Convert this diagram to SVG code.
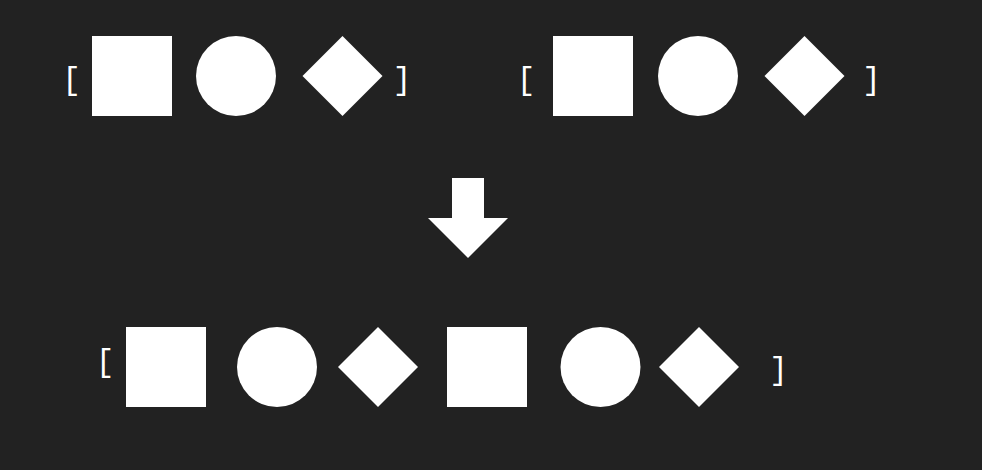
<svg xmlns="http://www.w3.org/2000/svg" width="982" height="470" viewBox="0 0 982 470">
<style>
.bg{fill:#222222}
.s{fill:#ffffff}
.br{fill:#ffffff;font-family:"Liberation Mono","DejaVu Sans Mono",monospace;font-size:31px;text-anchor:middle}
</style>
<rect class="bg" x="0" y="0" width="982" height="470"/>
<g id="list-a">
  <text class="br" x="71.5" y="89">[</text>
  <g id="a-square"><rect class="s" x="92" y="36" width="80" height="80"/></g>
  <g id="a-circle"><circle class="s" cx="236" cy="76" r="40"/></g>
  <g id="a-diamond"><polygon class="s" points="342.5,36 382.5,76 342.5,116 302.5,76"/></g>
  <text class="br" x="402" y="89">]</text>
</g>
<g id="list-b">
  <text class="br" x="526" y="89">[</text>
  <g id="b-square"><rect class="s" x="553" y="36" width="80" height="80"/></g>
  <g id="b-circle"><circle class="s" cx="698" cy="76" r="40"/></g>
  <g id="b-diamond"><polygon class="s" points="804.5,36 844.5,76 804.5,116 764.5,76"/></g>
  <text class="br" x="871.5" y="89">]</text>
</g>
<g id="connectors">
  <polygon class="s" points="452,178 484,178 484,218 508,218 468,258 428,218 452,218"/>
</g>
<g id="list-c">
  <text class="br" x="105" y="371">[</text>
  <g id="c-square1"><rect class="s" x="126" y="327" width="80" height="80"/></g>
  <g id="c-circle1"><circle class="s" cx="277" cy="367" r="40"/></g>
  <g id="c-diamond1"><polygon class="s" points="378,327 418,367 378,407 338,367"/></g>
  <g id="c-square2"><rect class="s" x="447" y="327" width="80" height="80"/></g>
  <g id="c-circle2"><circle class="s" cx="600.5" cy="367" r="40"/></g>
  <g id="c-diamond2"><polygon class="s" points="699,327 739,367 699,407 659,367"/></g>
  <text class="br" x="778.5" y="379">]</text>
</g>
</svg>
